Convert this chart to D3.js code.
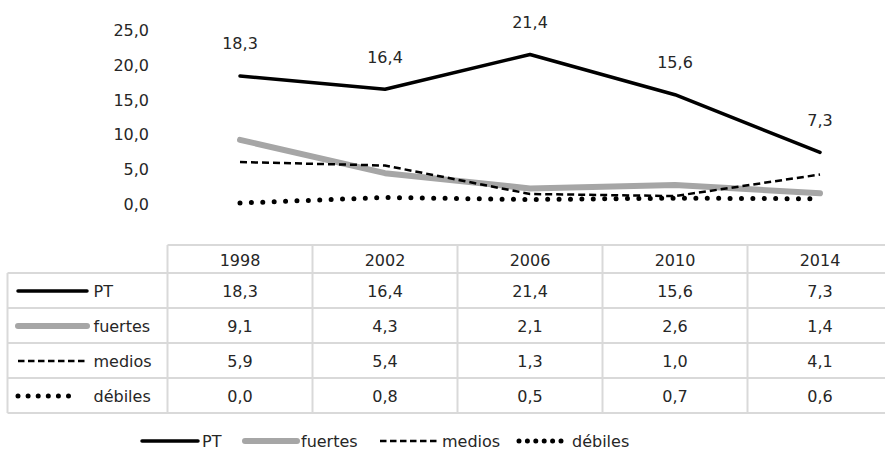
<!DOCTYPE html>
<html>
<head>
<meta charset="utf-8">
<script src="https://cdn.jsdelivr.net/npm/d3@7/dist/d3.min.js"></script>
<style>
  html, body { margin: 0; padding: 0; background: #fff; }
  svg { display: block; }
  text { font-family: "DejaVu Sans", sans-serif; fill: #262626; }
</style>
</head>
<body>
<svg id="chart" width="885" height="449"></svg>
<script>
const years = ["1998", "2002", "2006", "2010", "2014"];
const seriesNames = ["PT", "fuertes", "medios", "débiles"];
const ptValues = [18.3, 16.4, 21.4, 15.6, 7.3];
const fuertesValues = [9.1, 4.3, 2.1, 2.6, 1.4];
const mediosValues = [5.9, 5.4, 1.3, 1.0, 4.1];
const debilesValues = [0.0, 0.8, 0.5, 0.7, 0.6];
const yTicks = [0, 5, 10, 15, 20, 25];

const seriesValues = [ptValues, fuertesValues, mediosValues, debilesValues];

const styles = {
  "PT":      { stroke: "#000000", width: 3.5, dash: null, cap: "round" },
  "fuertes": { stroke: "#a6a6a6", width: 6, dash: null, cap: "round" },
  "medios":  { stroke: "#000000", width: 2.5, dash: "7,4", cap: "butt" },
  "débiles": { stroke: "#000000", width: 5, dash: "0,11.4", cap: "round" }
};

const fmt = v => v.toFixed(1).replace(".", ",");

const svg = d3.select("#chart");
const fontSize = 16;

const x = d3.scaleBand().domain(years).range([167.5, 892.5]).paddingInner(0).paddingOuter(0);
const xc = d => x(d) + x.bandwidth() / 2;
const y = d3.scaleLinear().domain([0, 25]).range([203, 29.5]);

// Y axis labels (no axis line / ticks)
const yAxis = d3.axisLeft(y).tickValues(yTicks).tickFormat(fmt).tickSize(0).tickPadding(0);
const gy = svg.append("g").attr("transform", "translate(149,1)").call(yAxis);
gy.select(".domain").remove();
gy.selectAll("text")
  .attr("font-size", fontSize)
  .attr("font-family", "DejaVu Sans, sans-serif")
  .attr("fill", "#262626");

// Lines
const lineGen = d3.line().x((d, i) => xc(years[i])).y(d => y(d));
const drawOrder = ["fuertes", "medios", "débiles", "PT"];
drawOrder.forEach(name => {
  const vals = seriesValues[seriesNames.indexOf(name)];
  const s = styles[name];
  svg.append("path")
    .datum(vals)
    .attr("d", lineGen)
    .attr("fill", "none")
    .attr("stroke", s.stroke)
    .attr("stroke-width", s.width)
    .attr("stroke-linecap", s.cap)
    .attr("stroke-linejoin", "round")
    .attr("stroke-dasharray", s.dash);
});

// PT data labels
svg.append("g").selectAll("text").data(ptValues).join("text")
  .attr("x", (d, i) => xc(years[i]))
  .attr("y", d => y(d) - 32)
  .attr("text-anchor", "middle")
  .attr("dominant-baseline", "central")
  .attr("font-size", fontSize)
  .text(fmt);

// Data table
const tableTop = 245, headerH = 28, rowH = 35, leftX = 7.5, firstColX = 167.5, rightX = 892.5;
const border = "#d9d9d9";
const tbl = svg.append("g");
const rowsBottom = tableTop + headerH + rowH * seriesNames.length;

tbl.append("line").attr("x1", firstColX).attr("x2", rightX).attr("y1", tableTop).attr("y2", tableTop)
  .attr("stroke", border).attr("stroke-width", 2);
for (let r = 0; r <= seriesNames.length; r++) {
  const yy = tableTop + headerH + r * rowH;
  tbl.append("line").attr("x1", leftX).attr("x2", rightX).attr("y1", yy).attr("y2", yy)
    .attr("stroke", border).attr("stroke-width", 2);
}
tbl.append("line").attr("x1", leftX).attr("x2", leftX).attr("y1", tableTop + headerH).attr("y2", rowsBottom)
  .attr("stroke", border).attr("stroke-width", 2);
years.forEach(yr => {
  tbl.append("line").attr("x1", x(yr)).attr("x2", x(yr)).attr("y1", tableTop).attr("y2", rowsBottom)
    .attr("stroke", border).attr("stroke-width", 2);
});
tbl.append("line").attr("x1", rightX).attr("x2", rightX).attr("y1", tableTop).attr("y2", rowsBottom)
  .attr("stroke", border).attr("stroke-width", 2);

// header
tbl.selectAll("text.hdr").data(years).join("text").attr("class", "hdr")
  .attr("x", d => xc(d)).attr("y", tableTop + headerH / 2 + 1)
  .attr("text-anchor", "middle").attr("dominant-baseline", "central")
  .attr("font-size", fontSize).text(d => d);

// rows
seriesNames.forEach((name, r) => {
  const cy = tableTop + headerH + r * rowH + rowH / 2 + 0.5;
  const s = styles[name];
  const endX = name === "débiles" ? 78 : 87;
  tbl.append("line").attr("x1", 18).attr("x2", endX).attr("y1", cy).attr("y2", cy)
    .attr("stroke", s.stroke).attr("stroke-width", s.width)
    .attr("stroke-linecap", s.cap)
    .attr("stroke-dasharray", name === "medios" ? "6.5,3.5" : (name === "débiles" ? "0,10.1" : null));
  tbl.append("text").attr("x", 93.5).attr("y", cy)
    .attr("dominant-baseline", "central").attr("font-size", fontSize).text(name);
  tbl.selectAll("text.v" + r).data(seriesValues[r]).join("text").attr("class", "v" + r)
    .attr("x", (d, i) => xc(years[i])).attr("y", cy)
    .attr("text-anchor", "middle").attr("dominant-baseline", "central")
    .attr("font-size", fontSize).text(fmt);
});

// bottom legend
const legendItems = [
  { name: "PT", x1: 142, x2: 198, tx: 202, dash: null },
  { name: "fuertes", x1: 245, x2: 297, tx: 301, dash: null },
  { name: "medios", x1: 380, x2: 440, tx: 442, dash: "6.5,3.5" },
  { name: "débiles", x1: 519, x2: 561, tx: 572, dash: "0,8.4" }
];
const ly = 441;
const lg = svg.append("g");
legendItems.forEach(it => {
  const s = styles[it.name];
  lg.append("line").attr("x1", it.x1).attr("x2", it.x2).attr("y1", ly).attr("y2", ly)
    .attr("stroke", s.stroke).attr("stroke-width", s.width)
    .attr("stroke-linecap", s.cap).attr("stroke-dasharray", it.dash);
  lg.append("text").attr("x", it.tx).attr("y", ly)
    .attr("dominant-baseline", "central").attr("font-size", fontSize).text(it.name);
});
</script>
</body>
</html>
